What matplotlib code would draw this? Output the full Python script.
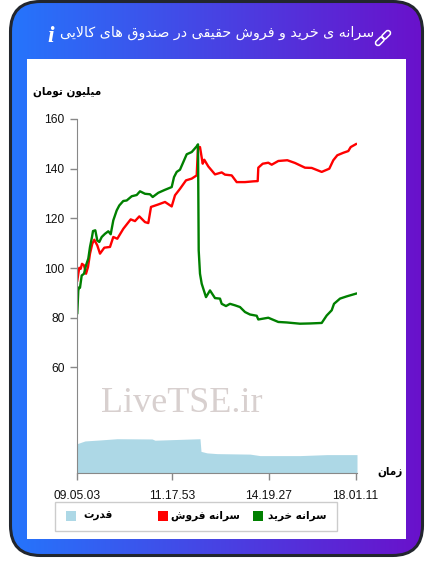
import numpy as np
import matplotlib
matplotlib.use('Agg')
import matplotlib.pyplot as plt
from matplotlib.patches import FancyBboxPatch, Rectangle
from matplotlib.transforms import Affine2D

# sample positions run 0..280 along the time axis
green_x = [0.3, 1.3, 2.3, 3, 4.7, 7, 9, 11.3, 13, 15, 16, 18.3, 20.3, 22.3, 24.7, 28, 31.3, 33.7, 36.3, 39.7,
           42.3, 46.3, 49.7, 54.7, 59.7, 63, 68, 73, 75.7, 81.3, 88, 94.7, 97, 99.7, 103, 109.7, 114.7, 119.7, 121,
           121.7, 123, 124.7, 129, 133, 138, 143, 144.7, 149, 153, 158, 163, 168, 173, 179.7, 181.3, 191.3, 201.3,
           209.7, 223, 233, 244.7, 249.7, 254.7, 257, 263, 269.7, 279]
green_y = [81.9, 91.0, 92.3, 92.1, 97.0, 97.7, 101.1, 103.8, 108.5, 112.5, 114.9, 115.2, 111.1, 110.5, 112.5, 113.8,
           114.8, 113.6, 119.2, 123.2, 125.2, 127.0, 127.2, 128.9, 129.4, 130.9, 129.9, 129.7, 128.6, 130.3, 131.5,
           132.6, 136.6, 138.7, 139.6, 145.8, 146.7, 149.0, 149.8, 107.1, 97.7, 93.7, 88.3, 91, 87.9, 87.7, 85.6,
           84.7, 85.6, 85, 84.3, 82.3, 81.3, 80.8, 79.3, 80, 78.3, 78.1, 77.6, 77.7, 77.9, 80.9, 83, 85.6, 87.7,
           88.6, 89.7]
red_x = [0.3, 1.3, 2.3, 3.7, 5, 7, 9, 11, 13, 15.3, 17.3, 20.3, 23, 27.3, 33, 36.3, 40.3, 46.3, 53.7, 58, 62.3, 68,
         71.3, 74, 81.3, 88, 94.7, 98, 103, 109, 114.7, 119.7, 121, 123, 125.7, 127.3, 131.3, 138, 144.7, 148, 154.7,
         159.7, 168, 176.3, 180.7, 181.3, 185.7, 191.3, 194.7, 201.3, 210.3, 218, 228, 234.7, 244.7, 252.3, 256.3,
         260.3, 266.3, 271.3, 273.7, 279]
red_y = [95.0, 97.7, 100.1, 99.7, 101.7, 101.1, 97.7, 100.4, 105.8, 109.8, 111.4, 109.1, 105.8, 108.2, 108.5, 112.5,
         111.8, 115.8, 119.6, 118.9, 120.8, 118.5, 118.1, 124.6, 125.6, 126.6, 124.8, 129.3, 131.9, 135.3, 136,
         137.3, 148.7, 148.7, 142, 143.6, 140.9, 137.7, 138.5, 137.6, 137.3, 134.6, 134.6, 134.9, 135, 140.4, 142,
         142.4, 141.6, 143.1, 143.4, 142.3, 140.4, 140.3, 138.7, 140, 143.4, 145.4, 146.4, 147.1, 148.7, 149.9]
power_x = [0, 8, 23, 40, 75, 78, 123, 124, 130, 140, 173, 183, 223, 250, 280]
power_y = [29.3, 30.4, 30.8, 31.3, 31.2, 30.7, 31.3, 26.2, 25.6, 25.3, 25.1, 24.5, 24.5, 24.9, 24.9]

y_ticks = [60, 80, 100, 120, 140, 160]
x_ticks = [0, 95, 191.5, 278.5]
x_labels = ['09.05.03', '11.17.53', '14.19.27', '18.01.11']

TITLE = 'سرانه ی خرید و فروش حقیقی در صندوق های کالایی'
Y_TITLE = 'میلیون تومان'
X_TITLE = 'زمان'
LEG_BUY = 'سرانه خرید'
LEG_SELL = 'سرانه فروش'
LEG_POWER = 'قدرت'

# isolated, final, initial, medial
FORMS = {'ت': 'ﺕﺖﺗﺘ', 'ح': 'ﺡﺢﺣﺤ', 'خ': 'ﺥﺦﺧﺨ', 'س': 'ﺱﺲﺳﺴ', 'ش': 'ﺵﺶﺷﺸ', 'ص': 'ﺹﺺﺻﺼ',
         'ف': 'ﻑﻒﻓﻔ', 'ق': 'ﻕﻖﻗﻘ', 'ک': 'ﮎﮏﮐﮑ', 'ل': 'ﻝﻞﻟﻠ', 'م': 'ﻡﻢﻣﻤ', 'ن': 'ﻥﻦﻧﻨ',
         'ه': 'ﻩﻪﻫﻬ', 'ی': 'ﯼﯽﯾﯿ'}
RIGHT_ONLY = {'ا': 'ﺍﺎ', 'د': 'ﺩﺪ', 'ر': 'ﺭﺮ', 'ز': 'ﺯﺰ', 'و': 'ﻭﻮ'}


def fa(text):
    # matplotlib does no arabic shaping, so pick the joined forms and reverse
    out = []
    prev_joins = False
    i = 0
    while i < len(text):
        c = text[i]
        nxt = text[i + 1] if i + 1 < len(text) else ' '
        if c == 'ل' and nxt == 'ا':
            out.append('ﻼ' if prev_joins else 'ﻻ')
            prev_joins = False
            i += 2
            continue
        if c in RIGHT_ONLY:
            out.append(RIGHT_ONLY[c][1 if prev_joins else 0])
            prev_joins = False
        elif c in FORMS:
            joins_next = nxt in FORMS or nxt in RIGHT_ONLY
            idx = {(False, False): 0, (True, False): 1, (False, True): 2, (True, True): 3}[(prev_joins, joins_next)]
            out.append(FORMS[c][idx])
            prev_joins = joins_next
        else:
            out.append(c)
            prev_joins = False
        i += 1
    return ''.join(reversed(out))


W, H = 433, 574
fig = plt.figure(figsize=(W / 100, H / 100), dpi=100)
fig.patch.set_facecolor('white')

# card in pixel coordinates
bg = fig.add_axes([0, 0, 1, 1])
grad = np.linspace(0, 1, 256).reshape(1, -1)
cmap = matplotlib.colors.LinearSegmentedColormap.from_list('card', ['#2575fc', '#6a11cb'])
im = bg.imshow(grad, extent=[10, 423, 556, 1], cmap=cmap, aspect='auto', zorder=1)
card = FancyBboxPatch((10.5, 1.5), 412, 554, boxstyle='round,pad=0,rounding_size=30',
                      facecolor='none', edgecolor='#22262e', linewidth=2.2, zorder=3)
bg.add_patch(card)
im.set_clip_path(card)
bg.add_patch(Rectangle((27, 59), 379, 480, facecolor='white', edgecolor='none', zorder=2))
bg.set_xlim(0, W)
bg.set_ylim(H, 0)
bg.axis('off')

bg.text(217.5, 33, fa(TITLE), color='white', fontsize=10.3, family='DejaVu Sans', ha='center', va='center', zorder=4)
bg.text(51, 37, 'i', color='white', fontsize=17, family='Liberation Serif', style='italic', weight='bold',
        ha='center', va='center', zorder=4)

# link icon
rot = Affine2D().rotate_deg_around(383, 38, -45) + bg.transData
for cx in (378.5, 387.5):
    bg.add_patch(FancyBboxPatch((cx - 5, 35.5), 10, 5, boxstyle='round,pad=0,rounding_size=2.5', facecolor='none',
                                edgecolor='white', linewidth=1.1, transform=rot, zorder=4))

bg.text(67, 92, fa(Y_TITLE), fontsize=7.6, weight='bold', family='DejaVu Sans', ha='center', va='center', zorder=4)
bg.text(390, 472, fa(X_TITLE), fontsize=7.6, weight='bold', family='DejaVu Sans', ha='center', va='center', zorder=4)

# legend
bg.add_patch(Rectangle((54.5, 501.5), 282, 29, facecolor='white', edgecolor='#cccccc', linewidth=1, zorder=4))
for x0, col, tx, lab in [(66, 'lightblue', 98, LEG_POWER), (158, 'red', 205, LEG_SELL), (253, 'green', 297.5, LEG_BUY)]:
    bg.add_patch(Rectangle((x0, 511), 10, 10, facecolor=col, edgecolor='none', zorder=5))
    bg.text(tx, 516, fa(lab), fontsize=7.6, weight='bold', family='DejaVu Sans', ha='center', va='center', zorder=5)

# chart
ax = fig.add_axes([77 / W, 1 - 473 / H, 280 / W, 354 / H])
ax.patch.set_alpha(0)
ax.fill_between(power_x, 17.5, power_y, color='lightblue', linewidth=0)
ax.plot(red_x, red_y, color='red', lw=1.7)
ax.plot(green_x, green_y, color='green', lw=1.7)
ax.text(105 / 1, 45.5, 'LiveTSE.ir', family='Liberation Serif', fontsize=26, color='#d8d0cf', ha='center', va='center')

ax.set_xlim(0, 280)
ax.set_ylim(17.5, 160)
ax.set_yticks(y_ticks)
ax.set_xticks(x_ticks)
ax.set_xticklabels(x_labels)
for s in ('top', 'right'):
    ax.spines[s].set_visible(False)
for s in ('left', 'bottom'):
    ax.spines[s].set_color('#888888')
ax.tick_params(colors='#888888', length=5, width=1, labelsize=8.64, labelcolor='#111111', pad=4)
ax.tick_params(axis='x', pad=7)
for t in ax.get_xticklabels() + ax.get_yticklabels():
    t.set_family('Liberation Sans')

plt.savefig('out.png', dpi=100)
